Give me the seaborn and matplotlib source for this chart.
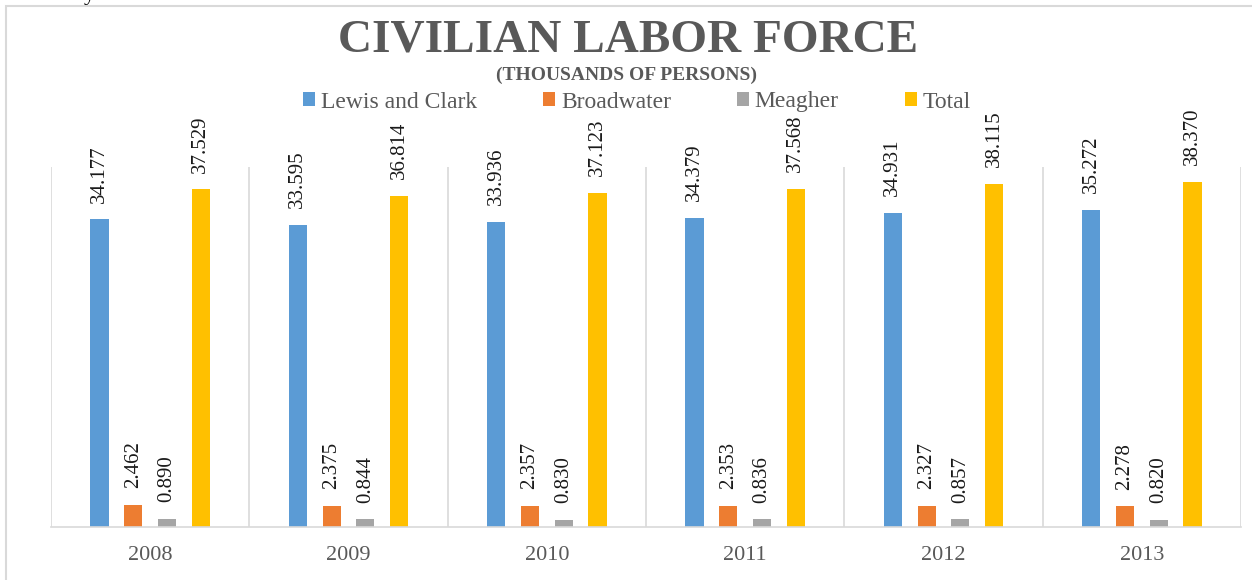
import numpy as np
import pandas as pd
import matplotlib
matplotlib.use("Agg")
import matplotlib.pyplot as plt
import matplotlib.patches as mpatches
from matplotlib.ticker import FixedLocator
import seaborn as sns

years = ["2008", "2009", "2010", "2011", "2012", "2013"]
series = ["Lewis and Clark", "Broadwater", "Meagher", "Total"]
lewis_and_clark = [34.177, 33.595, 33.936, 34.379, 34.931, 35.272]
broadwater = [2.462, 2.375, 2.357, 2.353, 2.327, 2.278]
meagher = [0.890, 0.844, 0.830, 0.836, 0.857, 0.820]
total = [37.529, 36.814, 37.123, 37.568, 38.115, 38.370]
colors = ["#5B9BD5", "#ED7D31", "#A5A5A5", "#FFC000"]

values = [lewis_and_clark, broadwater, meagher, total]
df = pd.DataFrame({
    "year": np.repeat([years], len(series), axis=0).ravel(),
    "series": np.repeat(series, len(years)),
    "value": np.concatenate(values),
})

sns.set_theme(style="white")
plt.rcParams["font.family"] = ["Liberation Serif", "DejaVu Serif"]

W, H = 1252, 580
fig = plt.figure(figsize=(W / 100, H / 100), dpi=100)
ax = fig.add_axes([51 / W, 1 - 527 / H, (1241 - 51) / W, (527 - 167) / H])

sns.barplot(data=df, x="year", y="value", hue="series", order=years,
            hue_order=series, palette=colors, saturation=1, width=0.68, gap=0.46,
            linewidth=0, errorbar=None, ax=ax, legend=True)

grid_c = "#D9D9D9"
text_c = "#595959"
ax.set_xlim(-0.5, len(years) - 0.5)
ax.set_ylim(0, 40)
ax.set_yticks([])
ax.set_xlabel("")
ax.set_ylabel("")
for s in ["top", "right", "left"]:
    ax.spines[s].set_visible(False)
ax.spines["bottom"].set_color(grid_c)
ax.spines["bottom"].set_linewidth(1.2)
ax.xaxis.set_minor_locator(FixedLocator(np.arange(-0.5, len(years), 1.0)))
ax.grid(False)
ax.grid(True, which="minor", axis="x", color=grid_c, linewidth=1.2)
ax.tick_params(axis="x", which="both", length=0, pad=14, labelsize=16,
               labelcolor=text_c)

for cont in ax.containers:
    ax.bar_label(cont, fmt="%.3f", rotation=90, padding=12, fontsize=15,
                 color="#1a1a1a")

handles, labels = ax.get_legend_handles_labels()
ax.legend_.remove()
fig.legend(handles, labels, loc="center", bbox_to_anchor=(637 / W, 1 - 102 / H),
           ncol=4, frameon=False, fontsize=17, labelcolor=text_c,
           handlelength=0.5, handleheight=0.5, handletextpad=0.25,
           columnspacing=2.8, borderpad=0)

fig.text(628 / W, 1 - 52 / H, "CIVILIAN LABOR FORCE", ha="center",
         va="baseline", fontsize=34, fontweight="bold", color=text_c)
fig.text(627 / W, 1 - 80 / H, "(THOUSANDS OF PERSONS)", ha="center",
         va="baseline", fontsize=14, fontweight="bold", color=text_c)
fig.text(84 / W, 1.0, "y", ha="left", va="baseline", fontsize=16, color="black")

border = mpatches.Rectangle((6 / W, -0.1), 1.2, 1.1 - 6 / H, transform=fig.transFigure,
                            fill=False, edgecolor=grid_c, linewidth=1.5)
fig.add_artist(border)

fig.savefig("out.png", dpi=100)
